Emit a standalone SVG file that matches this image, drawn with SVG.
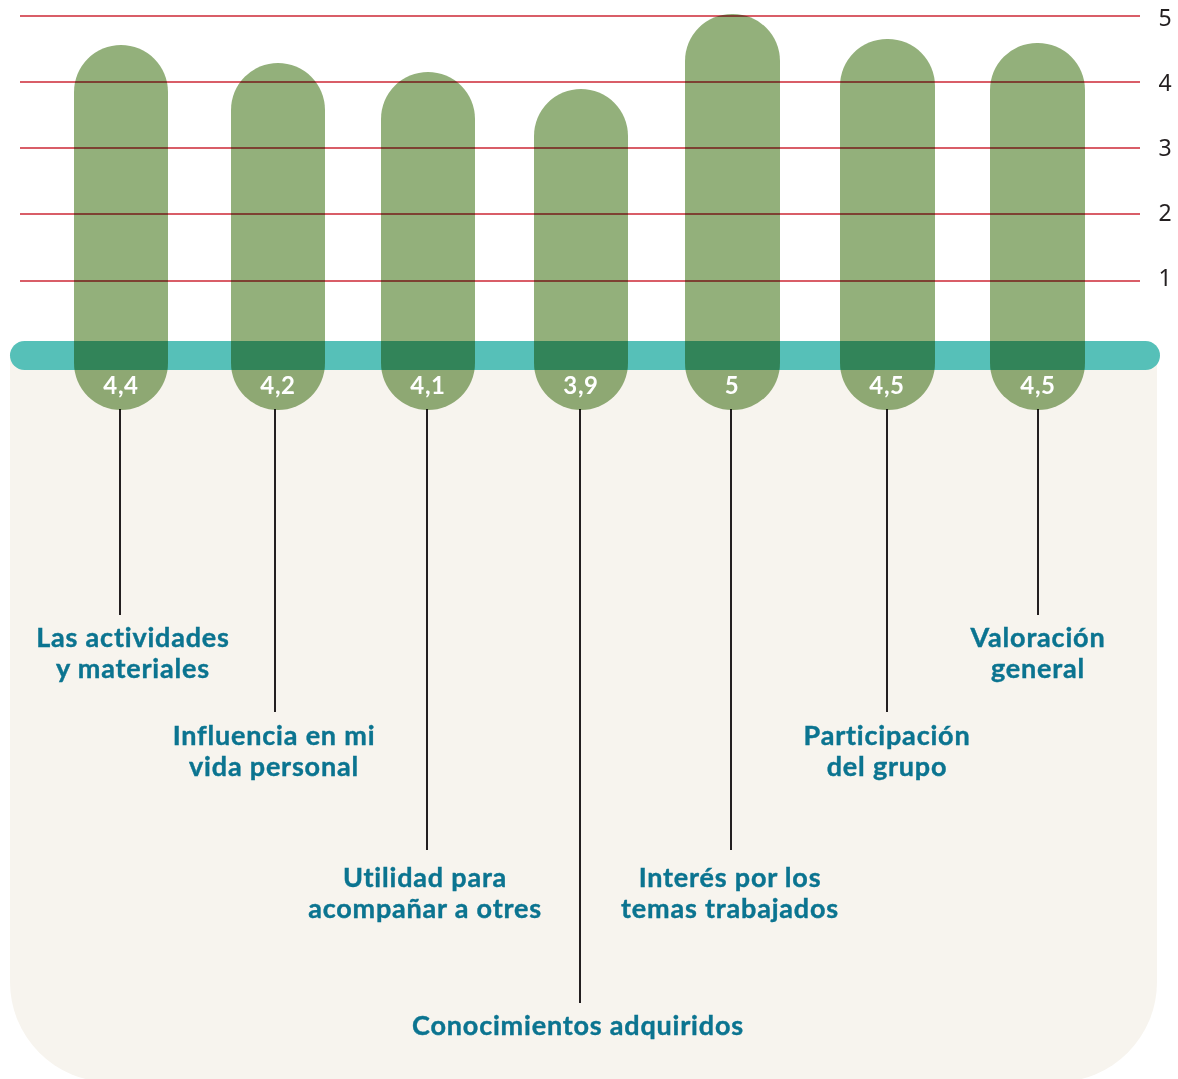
<svg xmlns="http://www.w3.org/2000/svg" width="1178" height="1079" viewBox="0 0 1178 1079">
<style>
.grid{stroke:#cc2936;stroke-width:1.3}
.axis{font-family:"Noto Sans","Open Sans",sans-serif;font-size:23px;fill:#231f20;text-anchor:middle}
.bar{fill:#93b07b;mix-blend-mode:multiply}
.val{font-family:Lato,"Noto Sans",sans-serif;font-weight:bold;font-size:24px;letter-spacing:0.6px;fill:#ffffff;text-anchor:middle}
.lbl{font-family:Lato,"Noto Sans",sans-serif;font-weight:bold;font-size:27px;letter-spacing:0.8px;fill:#0b7490;text-anchor:middle;stroke:#0b7490;stroke-width:0.4}
.conn{stroke:#231f20;stroke-width:2;fill:none}
</style>
<rect width="1178" height="1079" fill="#ffffff"/>
<path d="M10,355 H1157 V982 A100,100 0 0 1 1057,1082 H110 A100,100 0 0 1 10,982 Z" fill="#f7f4ee"/>
<g id="gridlines">
<line class="grid" x1="20" y1="16" x2="1140" y2="16"/>
<line class="grid" x1="20" y1="82" x2="1140" y2="82"/>
<line class="grid" x1="20" y1="148" x2="1140" y2="148"/>
<line class="grid" x1="20" y1="214" x2="1140" y2="214"/>
<line class="grid" x1="20" y1="281" x2="1140" y2="281"/>
</g>
<g id="axis-labels">
<text class="axis" x="1165" y="26">5</text>
<text class="axis" x="1165" y="91">4</text>
<text class="axis" x="1165" y="156">3</text>
<text class="axis" x="1165" y="221">2</text>
<text class="axis" x="1165" y="286">1</text>
</g>
<rect id="baseline-band" x="10" y="341" width="1150" height="29" rx="14.5" fill="#56c0b8"/>
<g id="connectors">
<line class="conn" x1="120" y1="409" x2="120" y2="615"/>
<line class="conn" x1="275" y1="409" x2="275" y2="712"/>
<line class="conn" x1="427" y1="409" x2="427" y2="850"/>
<line class="conn" x1="580" y1="409" x2="580" y2="1003"/>
<line class="conn" x1="731" y1="409" x2="731" y2="850"/>
<line class="conn" x1="887" y1="409" x2="887" y2="712"/>
<line class="conn" x1="1038" y1="409" x2="1038" y2="615"/>
</g>
<g id="bar-actividades">
<rect class="bar" x="74" y="45" width="94" height="365" rx="47"/>
<text class="val" x="121" y="394">4,4</text>
<text class="lbl" x="133" y="647">Las actividades</text>
<text class="lbl" x="133" y="678">y materiales</text>
</g>
<g id="bar-influencia">
<rect class="bar" x="231" y="63" width="94" height="347" rx="47"/>
<text class="val" x="278" y="394">4,2</text>
<text class="lbl" x="274" y="745">Influencia en mi</text>
<text class="lbl" x="274" y="776">vida personal</text>
</g>
<g id="bar-utilidad">
<rect class="bar" x="381" y="72" width="94" height="338" rx="47"/>
<text class="val" x="428" y="394">4,1</text>
<text class="lbl" x="425" y="887">Utilidad para</text>
<text class="lbl" x="425" y="918">acompañar a otres</text>
</g>
<g id="bar-conocimientos">
<rect class="bar" x="534" y="89" width="94" height="321" rx="47"/>
<text class="val" x="581" y="394">3,9</text>
<text class="lbl" x="578" y="1035">Conocimientos adquiridos</text>
</g>
<g id="bar-interes">
<rect class="bar" x="685" y="14" width="95" height="396" rx="47"/>
<text class="val" x="732" y="394">5</text>
<text class="lbl" x="730" y="887">Interés por los</text>
<text class="lbl" x="730" y="918">temas trabajados</text>
</g>
<g id="bar-participacion">
<rect class="bar" x="840" y="39" width="95" height="371" rx="47"/>
<text class="val" x="887" y="394">4,5</text>
<text class="lbl" x="887" y="745">Participación</text>
<text class="lbl" x="887" y="776">del grupo</text>
</g>
<g id="bar-valoracion">
<rect class="bar" x="990" y="43" width="95" height="367" rx="47"/>
<text class="val" x="1038" y="394">4,5</text>
<text class="lbl" x="1038" y="647">Valoración</text>
<text class="lbl" x="1038" y="678">general</text>
</g>
</svg>
